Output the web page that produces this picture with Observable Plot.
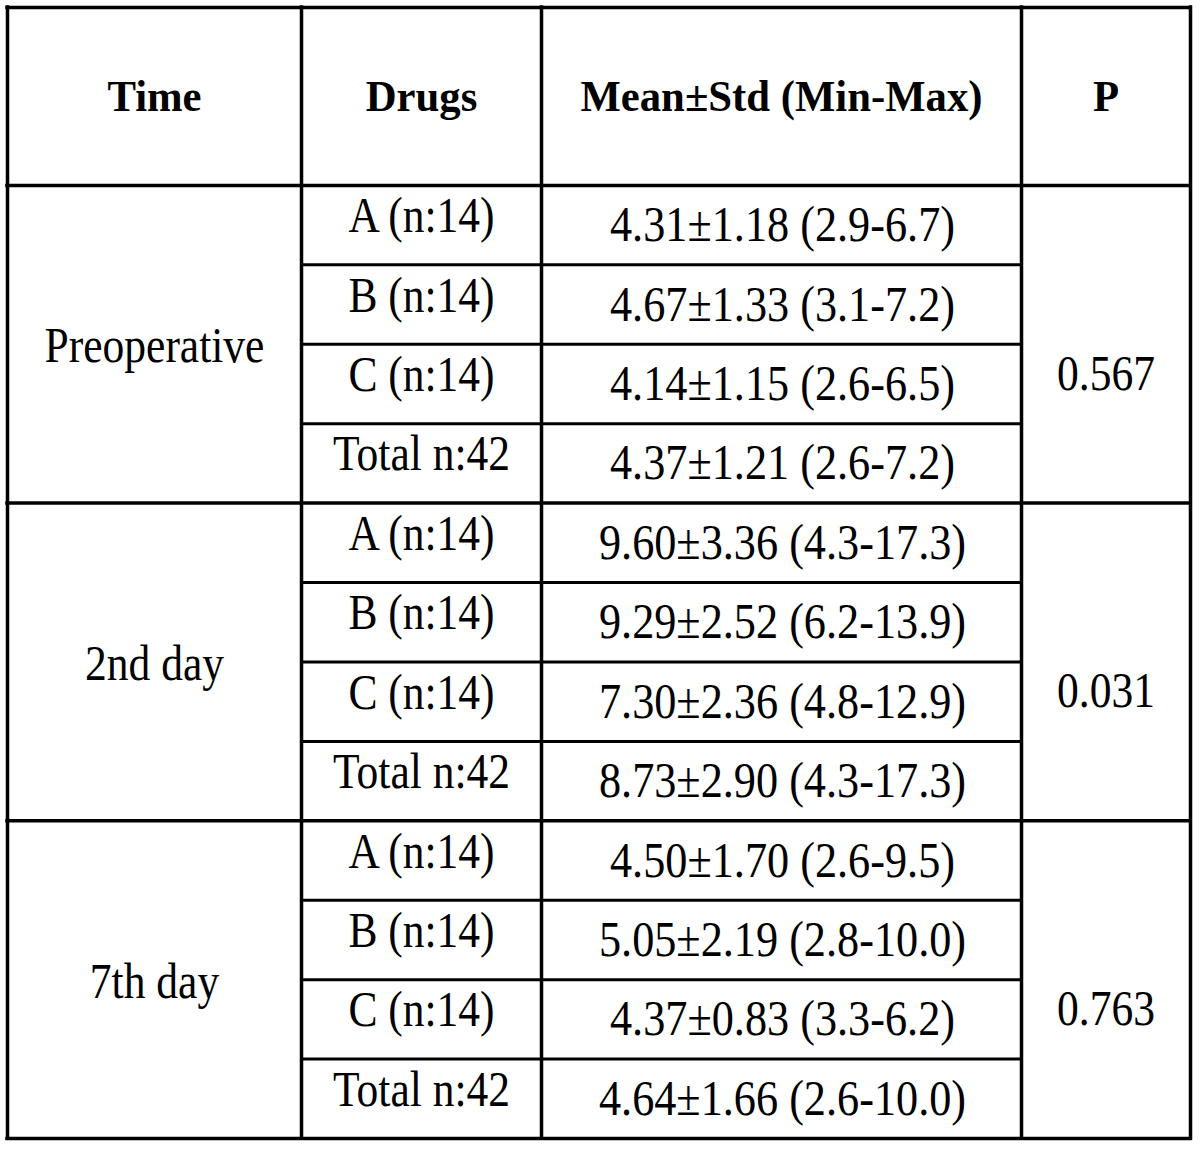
<!DOCTYPE html>
<html>
<head>
<meta charset="utf-8">
<script src="https://cdn.jsdelivr.net/npm/d3@7"></script>
<script src="https://cdn.jsdelivr.net/npm/@observablehq/plot@0.6"></script>
<style>
  html, body { margin: 0; padding: 0; background: #ffffff; }
  #chart { width: 1200px; height: 1150px; }
</style>
</head>
<body>
<div id="chart"></div>
<script>
// ---- Data ----
const headers = ["Time", "Drugs", "Mean±Std (Min-Max)", "P"];
const times = ["Preoperative", "2nd day", "7th day"];
const drugs = ["A (n:14)", "B (n:14)", "C (n:14)", "Total n:42"];
const meanValues = [4.31, 4.67, 4.14, 4.37, 9.60, 9.29, 7.30, 8.73, 4.50, 5.05, 4.37, 4.64];
const stdValues  = [1.18, 1.33, 1.15, 1.21, 3.36, 2.52, 2.36, 2.90, 1.70, 2.19, 0.83, 1.66];
const minValues  = [2.9, 3.1, 2.6, 2.6, 4.3, 6.2, 4.8, 4.3, 2.6, 2.8, 3.3, 2.6];
const maxValues  = [6.7, 7.2, 6.5, 7.2, 17.3, 13.9, 12.9, 17.3, 9.5, 10.0, 6.2, 10.0];
const pValues = ["0.567", "0.031", "0.763"];

// ---- Layout (grid units, not data) ----
const colWidths = [294, 240, 480, 169];
const headerRows = 2.24;
const pRowOffset = 2.37;
const edges = colWidths.reduce((a, w) => (a.push(a[a.length - 1] + w), a), [0]);
const totalW = edges[edges.length - 1];
const nGroups = times.length, nSub = drugs.length;
const totalH = headerRows + nGroups * nSub;
const mid = (i) => (edges[i] + edges[i + 1]) / 2;

// ---- Derived tables ----
const headerCells = headers.map((h, i) => ({x: mid(i), y: headerRows / 2, text: h}));
const drugCells = [], statCells = [], timeCells = [], pCells = [];
times.forEach((t, g) => {
  timeCells.push({x: mid(0), y: headerRows + g * nSub + nSub / 2, text: t});
  pCells.push({x: mid(3), y: headerRows + g * nSub + pRowOffset, text: pValues[g]});
  drugs.forEach((d, r) => {
    const k = g * nSub + r;
    const yc = headerRows + k + 0.5;
    drugCells.push({x: mid(1), y: yc, text: d});
    statCells.push({
      x: mid(2), y: yc,
      text: `${meanValues[k].toFixed(2)}±${stdValues[k].toFixed(2)} (${minValues[k].toFixed(1)}-${maxValues[k].toFixed(1)})`
    });
  });
});
const fullLines = [0, headerRows, ...times.map((_, g) => headerRows + (g + 1) * nSub)];
const partLines = [];
times.forEach((_, g) => { for (let r = 1; r < nSub; r++) partLines.push(headerRows + g * nSub + r); });

const font = "'Liberation Serif', 'Times New Roman', serif";

const chart = Plot.plot({
  width: 1200,
  height: 1150,
  margin: 0,
  style: {background: "#ffffff", fontFamily: font, overflow: "visible"},
  x: {domain: [0, totalW], range: [7, 1190], axis: null},
  y: {domain: [0, totalH], range: [7, 1138], axis: null},
  marks: [
    Plot.ruleY(partLines, {y: d => d, x1: edges[1], x2: edges[3], stroke: "#000", strokeWidth: 3}),
    Plot.ruleY(fullLines, {y: d => d, x1: 0, x2: totalW, stroke: "#000", strokeWidth: 3.5, strokeLinecap: "square"}),
    Plot.ruleX(edges, {x: d => d, y1: 0, y2: totalH, stroke: "#000", strokeWidth: 3.5, strokeLinecap: "square"}),
    Plot.text(headerCells, {x: "x", y: "y", text: "text", fontSize: 45, fontWeight: "bold", fill: "#000", fontFamily: font, ariaLabel: () => "head"}),
    Plot.text(timeCells, {x: "x", y: "y", text: "text", fontSize: 50, fill: "#000", fontFamily: font, dy: 2, ariaLabel: () => "body"}),
    Plot.text(drugCells, {x: "x", y: "y", text: "text", fontSize: 50, fill: "#000", fontFamily: font, dy: -9, ariaLabel: () => "body"}),
    Plot.text(statCells, {x: "x", y: "y", text: "text", fontSize: 50, fill: "#000", fontFamily: font, dx: 1, ariaLabel: () => "stat"}),
    Plot.text(pCells, {x: "x", y: "y", text: "text", fontSize: 50, fill: "#000", fontFamily: font, ariaLabel: () => "body"})
  ]
});

function condense(label, sx) {
  chart.querySelectorAll("text").forEach(t => {
    const own = t.getAttribute("aria-label");
    const parent = t.parentNode && t.parentNode.getAttribute ? t.parentNode.getAttribute("aria-label") : null;
    if (own !== label && parent !== label) return;
    const tr = t.getAttribute("transform");
    if (tr) {
      t.setAttribute("transform", tr + ` scale(${sx},1)`);
    } else {
      const x = parseFloat(t.getAttribute("x") || "0");
      t.setAttribute("x", "0");
      t.setAttribute("transform", `translate(${x},0) scale(${sx},1)`);
    }
  });
}
condense("head", 0.95);
condense("body", 0.87);
condense("stat", 0.885);

document.getElementById("chart").appendChild(chart);
</script>
</body>
</html>
